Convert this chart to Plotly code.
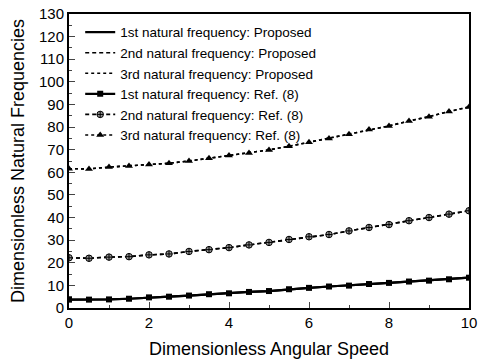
import plotly.graph_objects as go

speed = [0, 0.5, 1, 1.5, 2, 2.5, 3, 3.5, 4, 4.5, 5, 5.5, 6, 6.5, 7, 7.5, 8, 8.5, 9, 9.5, 10]
freq1 = [3.7, 3.7, 3.8, 4.1, 4.7, 5.0, 5.5, 6.1, 6.5, 7.1, 7.5, 8.3, 8.9, 9.5, 9.9, 10.6, 11.1, 11.7, 12.1, 12.7, 13.4]
freq2 = [22.2, 22.0, 22.5, 22.7, 23.5, 23.9, 25.0, 25.8, 26.7, 27.9, 29.0, 30.3, 31.5, 32.5, 34.1, 35.6, 36.9, 38.6, 40.0, 41.5, 43.0]
freq3 = [61.6, 61.5, 62.3, 62.8, 63.4, 64.0, 65.0, 66.2, 67.4, 68.5, 69.9, 71.5, 73.3, 75.0, 76.8, 78.9, 80.5, 82.7, 84.6, 86.9, 88.9]

names_prop = ["1st natural frequency: Proposed", "2nd natural frequency: Proposed", "3rd natural frequency: Proposed"]
names_ref = ["1st natural frequency: Ref. (8)", "2nd natural frequency: Ref. (8)", "3rd natural frequency: Ref. (8)"]
dashes = ["solid", "4px,3px", "dot"]
symbols = ["square", "circle-cross", "triangle-up"]
series = [freq1, freq2, freq3]

fig = go.Figure()
for ys, nm, d in zip(series, names_prop, dashes):
    fig.add_trace(go.Scatter(x=speed, y=ys, name=nm, mode="lines",
                             line=dict(color="black", width=2.2 if d == "solid" else 1.6, dash=d)))
for ys, nm, d, s in zip(series, names_ref, dashes, symbols):
    if s == "circle-cross":
        mk = dict(symbol=s, size=6.5, color="#999999", line=dict(color="black", width=1))
    elif s == "square":
        mk = dict(symbol=s, size=6, color="black")
    else:
        mk = dict(symbol=s, size=7, color="black")
    fig.add_trace(go.Scatter(x=speed, y=ys, name=nm, mode="lines+markers",
                             line=dict(color="black", width=2.2 if d == "solid" else 1.6, dash=d),
                             marker=mk))

font = "Liberation Sans, Arial, sans-serif"
fig.update_layout(
    width=481, height=361,
    margin=dict(l=69, r=12, t=14, b=53),
    paper_bgcolor="white", plot_bgcolor="white",
    font=dict(family=font, color="black", size=14),
    showlegend=True,
    legend=dict(x=0.028, y=0.99, xanchor="left", yanchor="top",
                bgcolor="rgba(0,0,0,0)", font=dict(size=13.5, family=font),
                tracegroupgap=0, itemwidth=30),
    xaxis=dict(range=[0, 10], tickvals=[0, 2, 4, 6, 8, 10], ticks="inside", ticklen=6,
               showline=True, linecolor="black", linewidth=2, mirror=True, automargin=False,
               showgrid=False, zeroline=False, tickfont=dict(size=15),
               minor=dict(ticks="inside", ticklen=3, dtick=1),
               title=dict(text="Dimensionless Angular Speed", font=dict(size=18), standoff=12)),
    yaxis=dict(range=[0, 130], dtick=10, ticks="inside", ticklen=6,
               showline=True, linecolor="black", linewidth=2, mirror=True, automargin=False,
               showgrid=False, zeroline=False, tickfont=dict(size=15),
               minor=dict(ticks="inside", ticklen=3, dtick=5),
               title=dict(text="Dimensionless Natural Frequencies", font=dict(size=18), standoff=10)),
)
fig.write_html("out.html", config={"displayModeBar": False},
               post_script="document.body.style.margin='0';document.body.style.overflow='hidden';")
